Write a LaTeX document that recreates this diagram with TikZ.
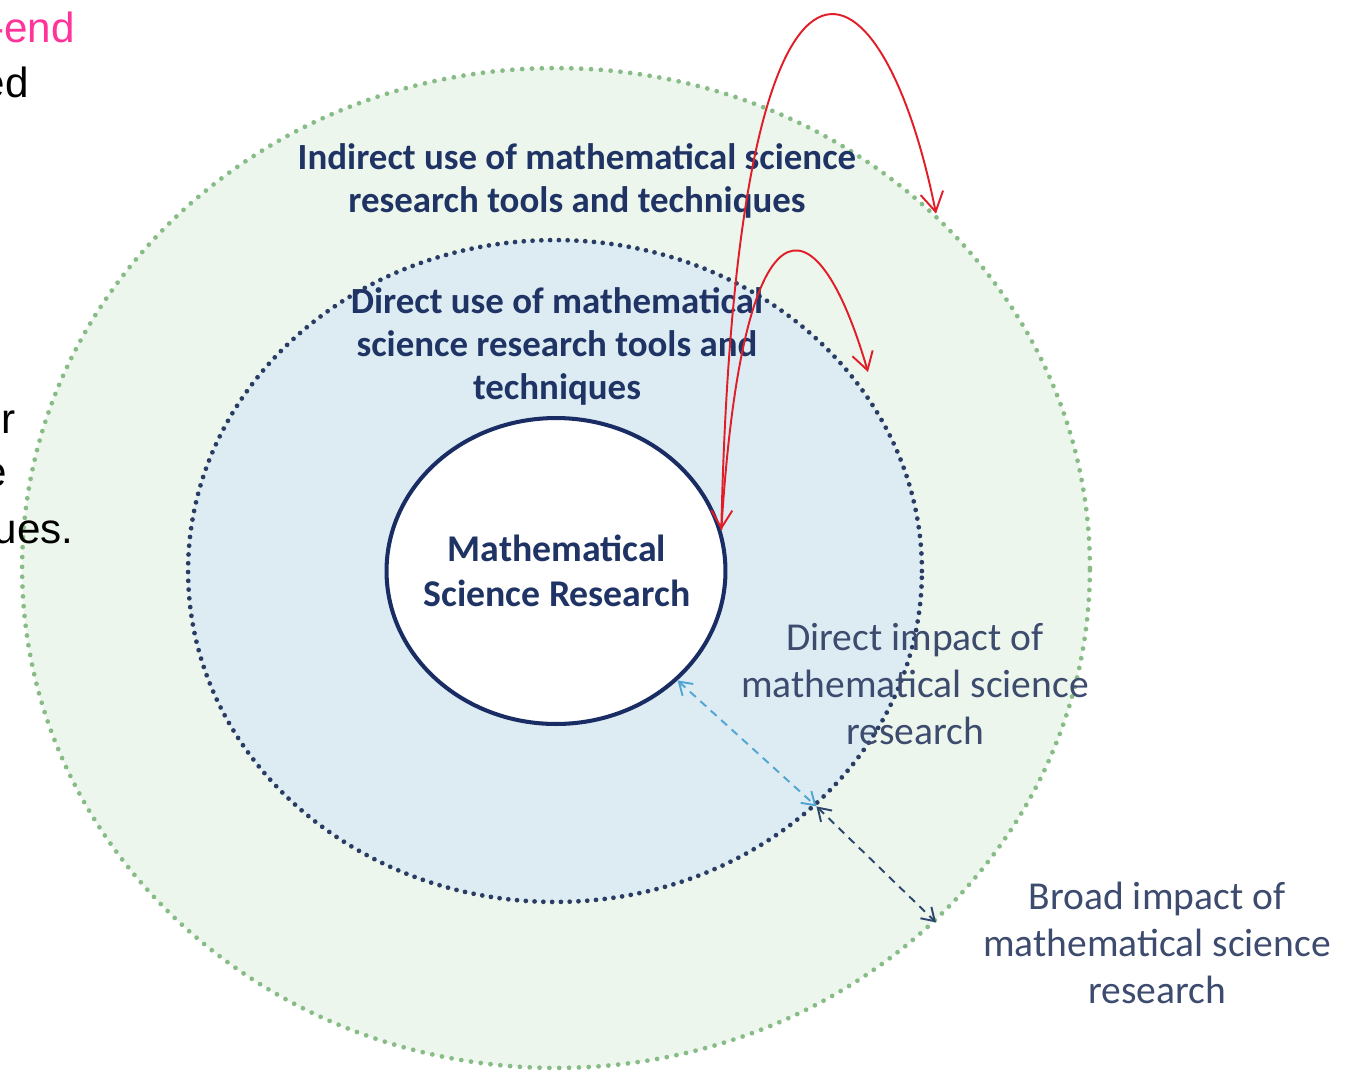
\documentclass[tikz,border=0pt]{standalone}
\usepackage{fontspec}
\setmainfont{Carlito}
\newfontfamily\arialf{Liberation Sans}
\usetikzlibrary{shapes.geometric,arrows.meta}
\definecolor{outerfill}{RGB}{237,246,237}
\definecolor{midfill}{RGB}{221,236,243}
\definecolor{greendot}{RGB}{135,188,135}
\definecolor{navydot}{RGB}{40,60,100}
\definecolor{navyline}{RGB}{25,45,100}
\definecolor{boldtxt}{RGB}{31,52,100}
\definecolor{regtxt}{RGB}{60,75,110}
\definecolor{redarr}{RGB}{225,30,40}
\definecolor{cyanarr}{RGB}{80,165,210}
\definecolor{darkarr}{RGB}{45,70,110}
\definecolor{pinktxt}{RGB}{255,51,153}
\tikzset{
  ring/.style={ellipse, inner sep=0pt},
  greendots/.style={draw=greendot, line width=2.7pt, dash pattern=on 0pt off 5.6pt, line cap=round},
  navydots/.style={draw=navydot, line width=2.7pt, dash pattern=on 0pt off 5pt, line cap=round},
  redarrow/.style={draw=redarr, line width=1.1pt},
  dasharrow/.style={line width=1.1pt, dash pattern=on 4.5pt off 3.5pt},
  boldlabel/.style={align=center, text=boldtxt, font=\bfseries\fontsize{21}{24.5}\selectfont},
  reglabel/.style={align=center, text=regtxt, font=\fontsize{22.5}{26.8}\selectfont},
  sidetext/.style={anchor=base east, inner sep=0pt, font=\arialf\fontsize{24}{28}\selectfont}
}
\begin{document}
\begin{tikzpicture}[x=0.02cm,y=-0.02cm]
\useasboundingbox (0,0) rectangle (1355,1073);
\fill[white] (0,0) rectangle (1355,1073);
% rings
\node[ring, greendots, fill=outerfill, minimum width=21.36cm, minimum height=20cm] (outer) at (556,568) {};
\node[ring, navydots, fill=midfill, minimum width=14.68cm, minimum height=13.24cm] (mid) at (555,571) {};
\node[ring, draw=navyline, line width=2.3pt, fill=white, minimum width=6.78cm, minimum height=6.12cm] (inner) at (556,571) {};
% texts
\node[boldlabel] (indirect) at (577,181) {Indirect use of mathematical science\\research tools and techniques};
\node[boldlabel] (direct) at (557,346) {Direct use of mathematical\\science research tools and\\techniques};
\node[boldlabel, font=\bfseries\fontsize{21.5}{26}\selectfont] (msr) at (557,571) {Mathematical\\Science Research};
\node[reglabel] (dimpact) at (915,684) {Direct impact of\\mathematical science\\research};
\node[reglabel] (bimpact) at (1157,943) {Broad impact of\\mathematical science\\research};
% side fragments
\node[sidetext, text=pinktxt] (f1) at (75,42) {-end};
\node[sidetext] (f2) at (29,97) {ed};
\node[sidetext] (f3) at (16,433) {r};
\node[sidetext] (f4) at (7,486) {e};
\node[sidetext] (f5) at (74,543) {ues.};
% red arrows
\coordinate (smalltip) at (868,372);
\draw[redarrow, {Straight Barb[length=10pt,width=12pt]}-{Straight Barb[length=11pt,width=13pt]}]
  (inner.14.5) .. controls +(15,-660) and +(-55,-275) .. (outer.43);
\draw[redarrow, -{Straight Barb[length=10pt,width=12pt]}]
  (inner.14.5) .. controls +(21,-339) and +(-53,-182) .. (smalltip);
% dashed double arrows
\draw[dasharrow, draw=cyanarr, {Straight Barb[length=7pt,width=9pt]}-{Straight Barb[length=7pt,width=9pt]}] (inner.-42) -- (mid.-42);
\draw[dasharrow, draw=darkarr, {Straight Barb[length=7pt,width=9pt]}-{Straight Barb[length=7pt,width=9pt]}] (mid.-42) -- (outer.-43);
\end{tikzpicture}
\end{document}
